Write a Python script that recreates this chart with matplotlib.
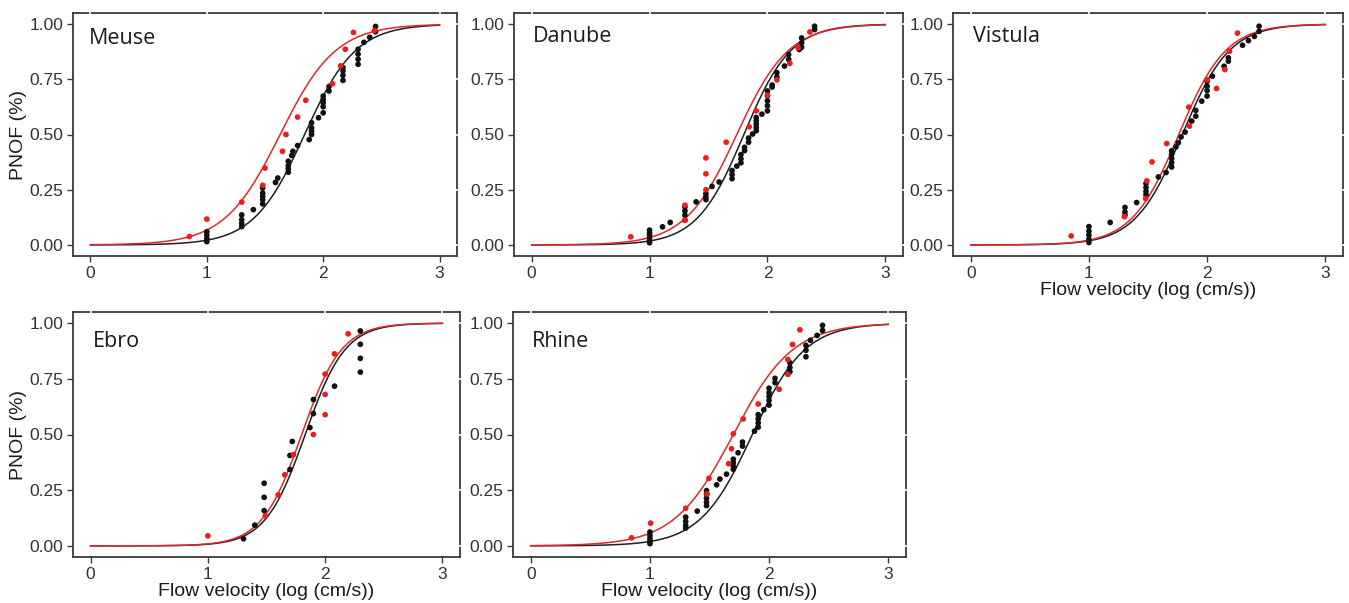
import numpy as np
import matplotlib
matplotlib.use("Agg")
import matplotlib.pyplot as plt

# ---------------- data ----------------
rivers = ["Meuse", "Danube", "Vistula", "Ebro", "Rhine"]

meuse_black_x = [1.0, 1.0, 1.0, 1.0, 1.3, 1.3, 1.3, 1.3, 1.40, 1.48, 1.48, 1.48, 1.48, 1.48,
                 1.59, 1.61, 1.70, 1.70, 1.70, 1.70, 1.73, 1.74, 1.78, 1.88, 1.90, 1.90, 1.90, 1.90,
                 1.96, 2.0, 2.0, 2.0, 2.0, 2.0, 2.05, 2.05, 2.17, 2.17, 2.17, 2.17, 2.30, 2.30, 2.30,
                 2.30, 2.35, 2.40, 2.45, 2.45]
meuse_black_y = [0.06, 0.045, 0.03, 0.015, 0.136, 0.114, 0.098, 0.083, 0.16, 0.258, 0.235, 0.22, 0.205, 0.186,
                 0.283, 0.303, 0.379, 0.359, 0.344, 0.329, 0.405, 0.424, 0.45, 0.477, 0.553, 0.53, 0.515, 0.50,
                 0.576, 0.674, 0.659, 0.644, 0.626, 0.598, 0.717, 0.697, 0.803, 0.788, 0.768, 0.745, 0.886, 0.864, 0.841,
                 0.818, 0.917, 0.94, 0.989, 0.965]
meuse_red_x = [0.85, 1.0, 1.3, 1.48, 1.50, 1.65, 1.68, 1.78, 1.85, 2.08, 2.15, 2.19, 2.26, 2.44]
meuse_red_y = [0.038, 0.117, 0.194, 0.27, 0.348, 0.424, 0.50, 0.579, 0.655, 0.73, 0.811, 0.886, 0.962, 0.97]

danube_black_x = [1.0, 1.0, 1.0, 1.0, 1.0, 1.0, 1.11, 1.175, 1.30, 1.30, 1.30, 1.30, 1.395, 1.478, 1.478, 1.478,
                  1.53, 1.59, 1.70, 1.70, 1.70, 1.74, 1.775, 1.775, 1.775, 1.806, 1.806, 1.84, 1.84, 1.874,
                  1.905, 1.905, 1.905, 1.905, 1.905, 1.953, 2.0, 2.0, 2.0, 2.0, 2.0, 2.04, 2.04, 2.08, 2.08,
                  2.145, 2.18, 2.18, 2.27, 2.29, 2.29, 2.29, 2.40, 2.40]
danube_black_y = [0.067, 0.055, 0.045, 0.033, 0.02, 0.01, 0.082, 0.102, 0.172, 0.154, 0.135, 0.112, 0.195, 0.232, 0.217, 0.205,
                  0.265, 0.285, 0.337, 0.319, 0.30, 0.357, 0.409, 0.39, 0.372, 0.442, 0.427, 0.484, 0.465, 0.502,
                  0.577, 0.562, 0.547, 0.532, 0.517, 0.592, 0.697, 0.675, 0.652, 0.63, 0.607, 0.724, 0.715, 0.78, 0.76,
                  0.81, 0.862, 0.84, 0.885, 0.937, 0.915, 0.895, 0.99, 0.975]
danube_red_x = [0.84, 1.30, 1.30, 1.478, 1.478, 1.478, 1.65, 1.845, 1.905, 2.0, 2.08, 2.19, 2.26, 2.36]
danube_red_y = [0.037, 0.18, 0.112, 0.394, 0.322, 0.25, 0.465, 0.535, 0.607, 0.678, 0.747, 0.822, 0.892, 0.964]

vistula_black_x = [1.0, 1.0, 1.0, 1.0, 1.0, 1.18, 1.305, 1.305, 1.305, 1.404, 1.483, 1.483, 1.483, 1.483,
                   1.588, 1.653, 1.70, 1.70, 1.70, 1.70, 1.70, 1.737, 1.757, 1.78, 1.814, 1.87, 1.904, 1.904,
                   1.955, 2.0, 2.0, 2.0, 2.0, 2.045, 2.144, 2.18, 2.18, 2.30, 2.35, 2.40, 2.44, 2.44]
vistula_black_y = [0.083, 0.063, 0.045, 0.026, 0.011, 0.102, 0.17, 0.15, 0.135, 0.192, 0.278, 0.26, 0.242, 0.227,
                   0.308, 0.328, 0.426, 0.41, 0.392, 0.373, 0.353, 0.444, 0.463, 0.489, 0.511, 0.561, 0.609, 0.583,
                   0.651, 0.741, 0.719, 0.699, 0.674, 0.764, 0.809, 0.847, 0.832, 0.904, 0.925, 0.944, 0.99, 0.967]
vistula_red_x = [0.85, 1.30, 1.48, 1.49, 1.534, 1.658, 1.845, 1.85, 2.0, 2.08, 2.15, 2.19, 2.257]
vistula_red_y = [0.041, 0.128, 0.21, 0.29, 0.376, 0.459, 0.624, 0.538, 0.747, 0.708, 0.794, 0.877, 0.959]

ebro_black_x = [1.304, 1.40, 1.48, 1.48, 1.48, 1.70, 1.70, 1.72, 1.87, 1.90, 1.90, 2.08, 2.30, 2.30, 2.30, 2.30]
ebro_black_y = [0.032, 0.093, 0.281, 0.218, 0.158, 0.343, 0.406, 0.469, 0.531, 0.594, 0.657, 0.717, 0.965, 0.905, 0.842, 0.78]
ebro_red_x = [1.0, 1.49, 1.60, 1.656, 1.73, 1.90, 2.0, 2.0, 2.0, 2.08, 2.196]
ebro_red_y = [0.045, 0.135, 0.229, 0.319, 0.41, 0.50, 0.589, 0.68, 0.771, 0.862, 0.952]

rhine_black_x = [1.0, 1.0, 1.0, 1.0, 1.0, 1.30, 1.30, 1.30, 1.30, 1.397, 1.475, 1.475, 1.475, 1.475, 1.475,
                 1.56, 1.587, 1.643, 1.70, 1.70, 1.70, 1.70, 1.74, 1.777, 1.777, 1.878, 1.909, 1.909, 1.909, 1.909,
                 1.956, 2.0, 2.0, 2.0, 2.0, 2.0, 2.05, 2.05, 2.175, 2.175, 2.175, 2.31, 2.31, 2.31, 2.348, 2.404,
                 2.449, 2.449]
rhine_black_y = [0.062, 0.047, 0.033, 0.021, 0.01, 0.129, 0.11, 0.092, 0.08, 0.156, 0.248, 0.233, 0.214, 0.196, 0.181,
                 0.274, 0.30, 0.322, 0.389, 0.374, 0.359, 0.344, 0.418, 0.466, 0.448, 0.515, 0.589, 0.57, 0.552, 0.533,
                 0.611, 0.708, 0.688, 0.671, 0.653, 0.632, 0.752, 0.733, 0.822, 0.801, 0.782, 0.90, 0.878, 0.849, 0.923, 0.945,
                 0.99, 0.967]
rhine_red_x = [0.845, 1.005, 1.30, 1.48, 1.495, 1.66, 1.685, 1.70, 1.783, 1.909, 2.085, 2.158, 2.158, 2.197, 2.259]
rhine_red_y = [0.036, 0.102, 0.169, 0.233, 0.303, 0.369, 0.436, 0.503, 0.57, 0.637, 0.703, 0.77, 0.837, 0.904, 0.97]

# fitted logistic curves: (midpoint, scale)
black_fit = {"Meuse": (1.84, 0.22), "Danube": (1.80, 0.20), "Vistula": (1.79, 0.20),
             "Ebro": (1.83, 0.17), "Rhine": (1.86, 0.22)}
red_fit = {"Meuse": (1.63, 0.24), "Danube": (1.74, 0.22), "Vistula": (1.76, 0.20),
           "Ebro": (1.80, 0.17), "Rhine": (1.70, 0.25)}

points = {
    "Meuse": (meuse_black_x, meuse_black_y, meuse_red_x, meuse_red_y),
    "Danube": (danube_black_x, danube_black_y, danube_red_x, danube_red_y),
    "Vistula": (vistula_black_x, vistula_black_y, vistula_red_x, vistula_red_y),
    "Ebro": (ebro_black_x, ebro_black_y, ebro_red_x, ebro_red_y),
    "Rhine": (rhine_black_x, rhine_black_y, rhine_red_x, rhine_red_y),
}

x_ticks = [0, 1, 2, 3]
y_ticks = [0.0, 0.25, 0.5, 0.75, 1.0]
y_ticklabels = ["0.00", "0.25", "0.50", "0.75", "1.00"]

# ---------------- layout (pixels) ----------------
W, H = 1349, 603
boxes = {  # left, top, right, bottom in pixels
    "Meuse": (73, 13, 457, 256),
    "Danube": (514, 13, 903, 256),
    "Vistula": (953, 13, 1343, 256),
    "Ebro": (73, 312, 460, 557),
    "Rhine": (513, 312, 906, 557),
}
title_pos = {"Meuse": (0.042, 0.871), "Danube": (0.049, 0.88), "Vistula": (0.051, 0.88),
             "Ebro": (0.051, 0.856), "Rhine": (0.048, 0.857)}
show_ylabel = {"Meuse", "Ebro"}
show_xlabel = {"Vistula", "Ebro", "Rhine"}

fig = plt.figure(figsize=(W / 100, H / 100), dpi=100)
fig.patch.set_facecolor("white")

spine_c = "#3a3a3a"
xx = np.linspace(0, 3, 400)

for r in rivers:
    l, t, rr, b = boxes[r]
    ax = fig.add_axes([l / W, 1 - b / H, (rr - l) / W, (b - t) / H])
    bx, by, rx, ry = points[r]
    m, s = black_fit[r]
    ax.plot(xx, 1 / (1 + np.exp(-(xx - m) / s)), color="#142420", lw=1.1, zorder=2)
    m, s = red_fit[r]
    ax.plot(xx, 1 / (1 + np.exp(-(xx - m) / s)), color="#e3262b", lw=1.1, zorder=2)
    ax.scatter(bx, by, s=17, color="#111111", edgecolors="none", zorder=3)
    ax.scatter(rx, ry, s=17, color="#ee1c1c", edgecolors="none", zorder=3)
    ax.set_xlim(-0.15, 3.15)
    ax.set_ylim(-0.05, 1.05)
    ax.set_xticks(x_ticks)
    ax.set_yticks(y_ticks)
    ax.set_yticklabels(y_ticklabels)
    ax.tick_params(direction="out", length=4, width=1, color=spine_c,
                   labelsize=12.5, labelcolor="#333333", pad=3)
    for lab in ax.get_xticklabels() + ax.get_yticklabels():
        lab.set_fontfamily("Liberation Sans")
    for sp in ax.spines.values():
        sp.set_color(spine_c)
        sp.set_linewidth(1.3)
    # white gaps on top/right border (grid lines crossing the border)
    for xt in x_ticks:
        ax.plot([xt, xt], [0.992, 1.008], transform=ax.get_xaxis_transform(),
                color="white", lw=1.2, clip_on=False, zorder=6)
    for yt in y_ticks:
        ax.plot([0.996, 1.004], [yt, yt], transform=ax.get_yaxis_transform(),
                color="white", lw=1.2, clip_on=False, zorder=6)
    tx, ty = title_pos[r]
    ax.text(tx, ty, r, transform=ax.transAxes, fontsize=15.5, family="Open Sans",
            color="#1a1a1a", va="baseline", ha="left")
    if r in show_ylabel:
        ax.set_ylabel("PNOF (%)", fontsize=14, family="Liberation Sans", color="#1a1a1a", labelpad=2)
    if r in show_xlabel:
        ax.set_xlabel("Flow velocity (log (cm/s))", fontsize=14, family="Liberation Sans",
                      color="#1a1a1a", labelpad=1)

fig.savefig("out.png", dpi=100, facecolor="white")
